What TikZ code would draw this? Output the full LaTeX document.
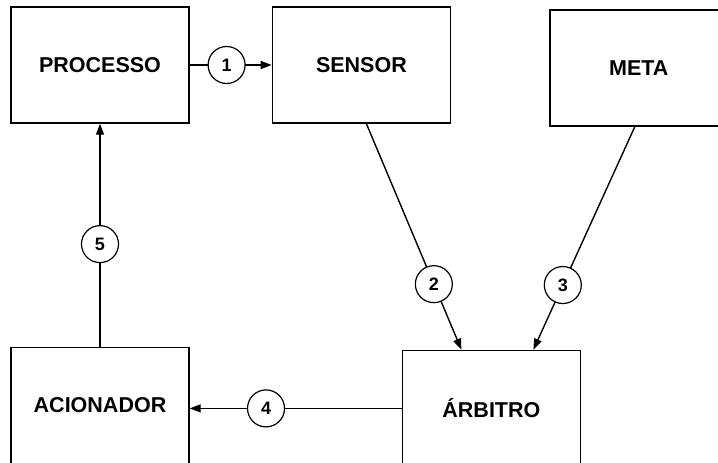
\documentclass[tikz,border=0pt]{standalone}
\usepackage{fontspec}
\setmainfont{Liberation Sans}
\usepackage{tikz}
\usetikzlibrary{arrows.meta, positioning, calc}

\begin{document}
\begin{tikzpicture}[
    x=1pt, y=-1pt,
    block/.style={rectangle, draw=black, line width=1.4pt, inner sep=0pt, align=center, minimum width=178pt, minimum height=116pt, font=\fontsize{21.5}{25}\selectfont\bfseries},
    num/.style={circle, draw=black, fill=white, line width=1.2pt, inner sep=0pt, minimum size=37pt, font=\fontsize{18}{20}\selectfont\bfseries},
    arrow/.style={-{Triangle[length=11pt, width=8pt]}, line width=1.4pt, color=black}
]
\useasboundingbox (0,0) rectangle (718,463);

% Nodes
\node (processo) [block] at (100,65) {PROCESSO};
\node (sensor) [block, right=82pt of processo] {SENSOR};
\node (meta) [block, right=98pt of sensor, yshift=-3pt] {META};

\node (acionador) [block, below=223pt of processo] {ACIONADOR};
\node (arbitro) [block, right=212pt of acionador, yshift=-3pt] {ÁRBITRO};

% Arrows
\draw [arrow] (processo) -- node[num, pos=0.45] (n1) {1} (sensor);
\draw [arrow] ([xshift=5pt]sensor.south) -- node[num, pos=0.71] (n2) {2} ([xshift=-30pt]arbitro.north);
\draw [arrow] ([xshift=-4pt]meta.south) -- node[num, pos=0.71] (n3) {3} ([xshift=42pt]arbitro.north);
\draw [arrow] (arbitro.west) -- node[num, pos=0.64] (n4) {4} (arbitro.west -| acionador.east);
\draw [arrow] (acionador) -- node[num, pos=0.46] (n5) {5} (processo);

\end{tikzpicture}
\end{document}
